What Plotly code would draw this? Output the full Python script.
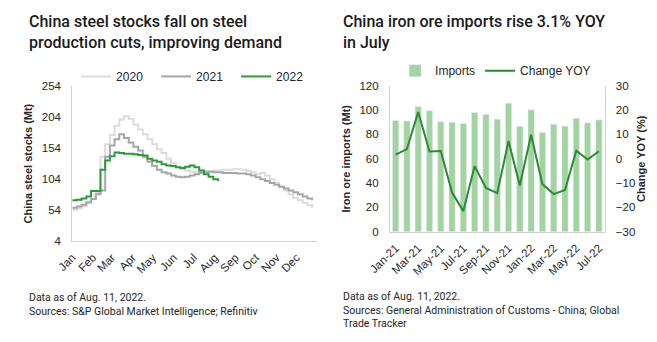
import pandas as pd
import plotly.graph_objects as go

# ---- Left panel: weekly China steel stocks (Mt) ----
stocks_2020 = [55, 57, 61, 66, 72, 82, 140, 160, 175, 190, 200, 205, 201, 192, 184, 176,
               168, 160, 152, 146, 137, 130, 124, 120, 118, 116, 115, 116, 117, 117, 118, 118,
               119, 119, 120, 120, 119, 117, 115, 112, 114, 110, 104, 98, 92, 86, 80, 74,
               70, 66, 62, 58]
stocks_2021 = [58, 60, 63, 67, 72, 80, 86, 140, 158, 168, 176, 170, 163, 156, 150, 140,
               132, 125, 119, 115, 113, 110, 108, 107, 108, 110, 112, 114, 115, 116, 115, 115,
               114, 114, 114, 113, 113, 112, 110, 107, 104, 101, 98, 95, 92, 89, 86, 83,
               80, 76, 73, 70]
stocks_2022 = [70, 71, 73, 76, 85, 85, 119, 134, 141, 147, 146, 145, 145, 144, 143, 142,
               137, 134, 132, 128, 126, 125, 123, 122, 124, 126, 123, 118, 112, 108, 104, 101]
month_labels = ["Jan", "Feb", "Mar", "Apr", "May", "Jun", "Jul", "Aug", "Sep", "Oct", "Nov", "Dec"]
stock_ticks = [4, 54, 104, 154, 204, 254]

# ---- Right panel: monthly iron ore imports ----
months = ["Jan-21", "Feb-21", "Mar-21", "Apr-21", "May-21", "Jun-21", "Jul-21", "Aug-21",
          "Sep-21", "Oct-21", "Nov-21", "Dec-21", "Jan-22", "Feb-22", "Mar-22", "Apr-22",
          "May-22", "Jun-22", "Jul-22"]
imports_mt = [91.5, 91.0, 103.0, 99.4, 90.4, 90.0, 89.0, 98.0, 96.5, 92.5, 105.7, 86.7,
              100.4, 81.7, 88.3, 86.7, 93.3, 89.6, 92.0]
change_yoy = [1.7, 4.0, 19.2, 3.0, 3.2, -13.9, -21.5, -3.0, -12.0, -14.1, 7.3, -11.0,
              9.9, -10.4, -14.5, -12.8, 3.3, -0.3, 3.1]

W, H = 657, 342
TICK_FONT = dict(family="Liberation Sans, Arial, sans-serif", size=11.5, color="#262626")
AXIS_TITLE_FONT = dict(family="Liberation Sans, Arial, sans-serif", size=11,
                       color="#262626", weight="bold")
LEGEND_FONT = dict(family="Liberation Sans, Arial, sans-serif", size=12, color="#262626")
AXIS_COLOR = "#d0d0d0"
HIDDEN_TICK = dict(ticks="outside", tickcolor="rgba(0,0,0,0)")

weeks = pd.date_range("2022-01-01", periods=52, freq="7D")
month_starts = pd.date_range("2022-01-01", periods=12, freq="MS")

fig = go.Figure()

for name, vals, color in [("2020", stocks_2020, "#dcdcdc"),
                          ("2021", stocks_2021, "#a6a6a6"),
                          ("2022", stocks_2022, "#2e9a3c")]:
    fig.add_trace(go.Scatter(x=weeks[:len(vals)], y=vals, name=name, mode="lines",
                             line=dict(color=color, width=2, shape="hv"),
                             xaxis="x", yaxis="y", legend="legend"))

fig.add_trace(go.Bar(x=months, y=imports_mt, name="Imports", marker_color="#a3d3a0",
                     width=0.55, xaxis="x2", yaxis="y2", legend="legend2"))
fig.add_trace(go.Scatter(x=months, y=change_yoy, name="Change YOY", mode="lines",
                         line=dict(color="#2a8a36", width=2),
                         xaxis="x2", yaxis="y3", legend="legend2"))

left_dom = [52 / W, 305 / W]
right_dom = [380.7 / W, 602.7 / W]

fig.update_layout(
    width=W, height=H, margin=dict(l=0, r=0, t=0, b=0),
    paper_bgcolor="white", plot_bgcolor="white", showlegend=True,
    xaxis=dict(domain=left_dom, anchor="y", type="date",
               range=["2022-01-01", "2022-12-31"],
               tickvals=month_starts, ticktext=month_labels, tickangle=-45,
               tickfont=TICK_FONT, showgrid=False, showline=True, linecolor=AXIS_COLOR,
               linewidth=1, ticklen=4, **HIDDEN_TICK),
    yaxis=dict(domain=[(H - 244) / H, (H - 82.7) / H], anchor="x",
               range=[4, 254], tickvals=stock_ticks, tickfont=TICK_FONT,
               showgrid=False, zeroline=False, showline=True, linecolor=AXIS_COLOR,
               ticklen=8, **HIDDEN_TICK,
               title=dict(text="China steel stocks (Mt)", standoff=6, font=AXIS_TITLE_FONT)),
    xaxis2=dict(domain=right_dom, anchor="y2", type="category",
                tickvals=months[::2], tickangle=-45, tickfont=TICK_FONT,
                showgrid=False, showline=True, linecolor=AXIS_COLOR,
                ticklen=4, **HIDDEN_TICK),
    yaxis2=dict(domain=[(H - 234) / H, (H - 82.7) / H], anchor="x2",
                range=[0, 120], dtick=20, tickfont=TICK_FONT,
                showgrid=False, zeroline=False, showline=True, linecolor=AXIS_COLOR,
                ticklen=8, **HIDDEN_TICK,
                title=dict(text="Iron ore imports (Mt)", standoff=6, font=AXIS_TITLE_FONT)),
    yaxis3=dict(overlaying="y2", anchor="x2", side="right",
                range=[-30, 30], dtick=10, tickfont=TICK_FONT,
                showgrid=False, zeroline=False, showline=True, linecolor=AXIS_COLOR,
                ticklen=8, **HIDDEN_TICK,
                title=dict(text="Change YOY (%)", standoff=0, font=AXIS_TITLE_FONT)),
    legend=dict(orientation="h", x=56 / W, xanchor="left", y=1 - 73 / H,
                yanchor="middle", entrywidth=35, itemwidth=30,
                font=LEGEND_FONT, bgcolor="rgba(0,0,0,0)"),
    legend2=dict(orientation="h", x=490 / W, xanchor="center", y=1 - 67 / H,
                 yanchor="middle", itemwidth=30,
                 font=LEGEND_FONT, bgcolor="rgba(0,0,0,0)"),
)

TITLE_FONT = dict(family="Roboto, sans-serif", size=16, color="#1a1a1a", weight=500)
NOTE_FONT = dict(family="Roboto, sans-serif", size=10.5, color="#262626")

texts = [
    (5, 27, "China steel stocks fall on steel<br>production cuts, improving demand", TITLE_FONT),
    (330, 27, "China iron ore imports rise 3.1% YOY<br>in July", TITLE_FONT),
    (5, 309, "Data as of Aug. 11, 2022.<br>Sources: S&P Global Market Intelligence; Refinitiv", NOTE_FONT),
    (330, 315, "Data as of Aug. 11, 2022.<br>Sources: General Administration of Customs - China; Global<br>Trade Tracker", NOTE_FONT),
]
for x, y, t, f in texts:
    fig.add_annotation(x=x / W, y=1 - y / H, xref="paper", yref="paper", text=t,
                       showarrow=False, xanchor="left", yanchor="middle", align="left", font=f)

fig.write_html("out.html")
